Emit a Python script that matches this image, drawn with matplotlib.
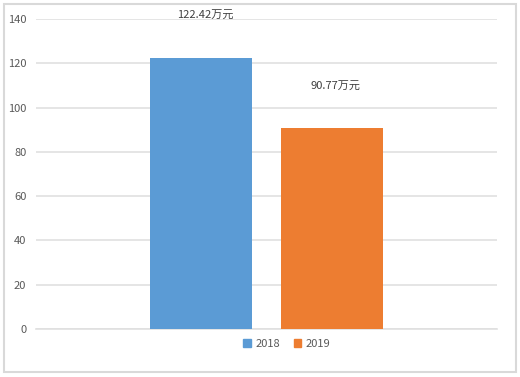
import matplotlib
matplotlib.use("Agg")
import matplotlib.pyplot as plt
from matplotlib.patches import Rectangle, Patch

plt.rcParams['font.family'] = ['Noto Sans CJK SC', 'DejaVu Sans']

years = ['2018', '2019']
values = [122.42, 90.77]
labels = ['122.42万元', '90.77万元']
colors = ['#5b9bd5', '#ed7d31']
label_y = [141.5, 109.5]
yticks = [0, 20, 40, 60, 80, 100, 120, 140]

fig = plt.figure(figsize=(5.2, 3.77), dpi=100)
fig.patches.append(Rectangle((4/520, 1-372/377), 512/520, 368/377, transform=fig.transFigure,
                             fill=False, edgecolor='#d9d9d9', linewidth=1.5))
ax = fig.add_axes([36/520, 1-329/377, 461/520, 310/377])

x = list(range(len(years)))
ax.bar(x, values, width=0.78, color=colors, zorder=3)
for xi, ly, lab in zip(x, label_y, labels):
    ax.text(xi + 0.03, ly, lab, ha='center', va='center', fontsize=8, color='#404040')

ax.set_xlim(-1.26, 2.26)
ax.set_ylim(0, 140)
ax.set_yticks(yticks)
ax.set_yticklabels([str(t) for t in yticks], fontsize=8, color='#595959')
ax.set_xticks([])
ax.grid(axis='y', color='#e0e0e0', linewidth=1.2, zorder=0)
ax.tick_params(axis='y', length=0, pad=7)
for s in ax.spines.values():
    s.set_visible(False)
ax.spines['bottom'].set_visible(True)
ax.spines['bottom'].set_color('#e0e0e0')
ax.spines['bottom'].set_linewidth(1.2)

handles = [Patch(color=c, label=y) for c, y in zip(colors, years)]
fig.legend(handles=handles, loc='center', bbox_to_anchor=(287/520, 1-344/377), ncol=2,
           frameon=False, fontsize=8, handlelength=0.7, handleheight=0.7,
           handletextpad=0.4, columnspacing=1.2, labelcolor='#595959')

fig.savefig('out.png', dpi=100)
